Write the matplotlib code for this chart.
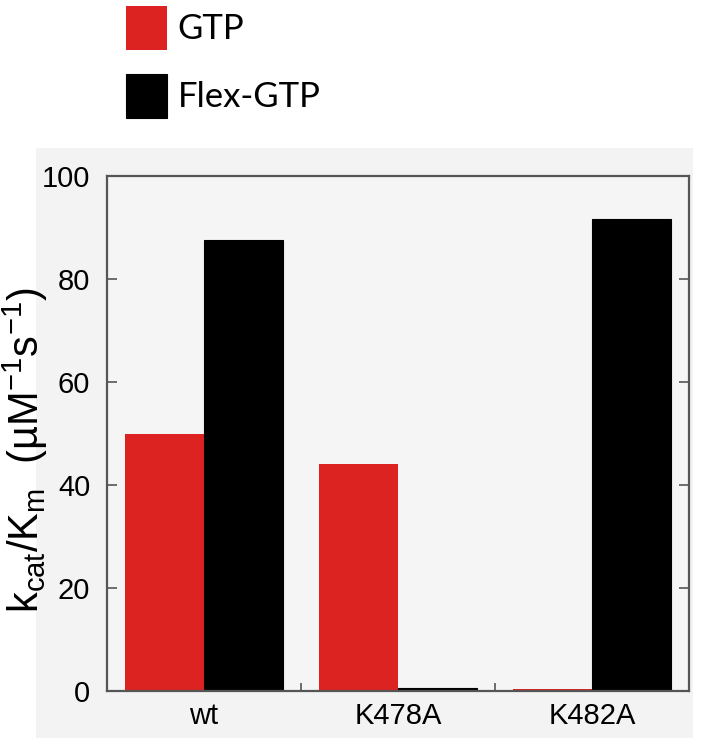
import matplotlib
matplotlib.use("Agg")
import matplotlib.pyplot as plt
import numpy as np
from matplotlib.patches import Rectangle

categories = ["wt", "K478A", "K482A"]
series_names = ["GTP", "Flex-GTP"]
gtp_values = [50.0, 44.0, 0.3]
flex_values = [87.6, 0.5, 91.7]
yticks = [0, 20, 40, 60, 80, 100]

plt.rcParams['mathtext.fontset'] = 'custom'
plt.rcParams['mathtext.rm'] = 'Liberation Sans'
plt.rcParams['mathtext.it'] = 'Liberation Sans'
plt.rcParams['font.family'] = ['Liberation Sans', 'DejaVu Sans']

W, H = 702, 746
fig = plt.figure(figsize=(W / 100, H / 100), dpi=100)
fig.patch.set_facecolor('white')

# gray panel behind the plot
fig.patches.append(Rectangle((36 / W, 1 - 738 / H), (693 - 36) / W, (738 - 148) / H,
                             transform=fig.transFigure, facecolor='#f3f3f3',
                             edgecolor='none', zorder=-5))

ax = fig.add_axes([107 / W, 1 - 691 / H, (689 - 107) / W, (691 - 176) / H])
ax.set_zorder(2)
ax.set_facecolor('#f5f5f5')

x = np.arange(len(categories))
w = 0.405
b1 = ax.bar(x - w / 2, gtp_values, w, color='#dd2222', edgecolor='none', label=series_names[0])
b2 = ax.bar(x + w / 2, flex_values, w, color='black', edgecolor='black', linewidth=0.8,
            label=series_names[1])

ax.set_xlim(-0.5, 2.5)
ax.set_ylim(0, 100)

for s in ax.spines.values():
    s.set_color('#555555')
    s.set_linewidth(1.6)

ax.set_yticks(yticks)
ax.set_yticklabels([str(v) for v in yticks])
ax.tick_params(axis='y', direction='in', length=7, width=1.2, color='#555555',
               right=True, labelsize=21, pad=12)
ax.set_xticks(x)
ax.set_xticklabels(categories)
ax.tick_params(axis='x', which='major', length=0, labelsize=21, pad=8)
ax.set_xticks([0.5, 1.5], minor=True)
ax.tick_params(axis='x', which='minor', direction='in', length=6, width=1.2, color='#555555')

fig.text(25 / W, 1 - 450 / H,
         r'$\mathregular{k_{cat}/K_m\ \ (µM^{-1}s^{-1})}$',
         rotation=90, ha='center', va='center', fontsize=30)

fig.legend(handles=[b1, b2], labels=series_names, loc='upper left',
           bbox_to_anchor=(102 / W, 1 + 18 / H), frameon=False,
           prop={'family': 'Lato', 'size': 25}, handlelength=1.18, handleheight=1.55,
           handletextpad=0.3, labelspacing=0.7, borderaxespad=0.3)

fig.savefig('out.png', dpi=100)
